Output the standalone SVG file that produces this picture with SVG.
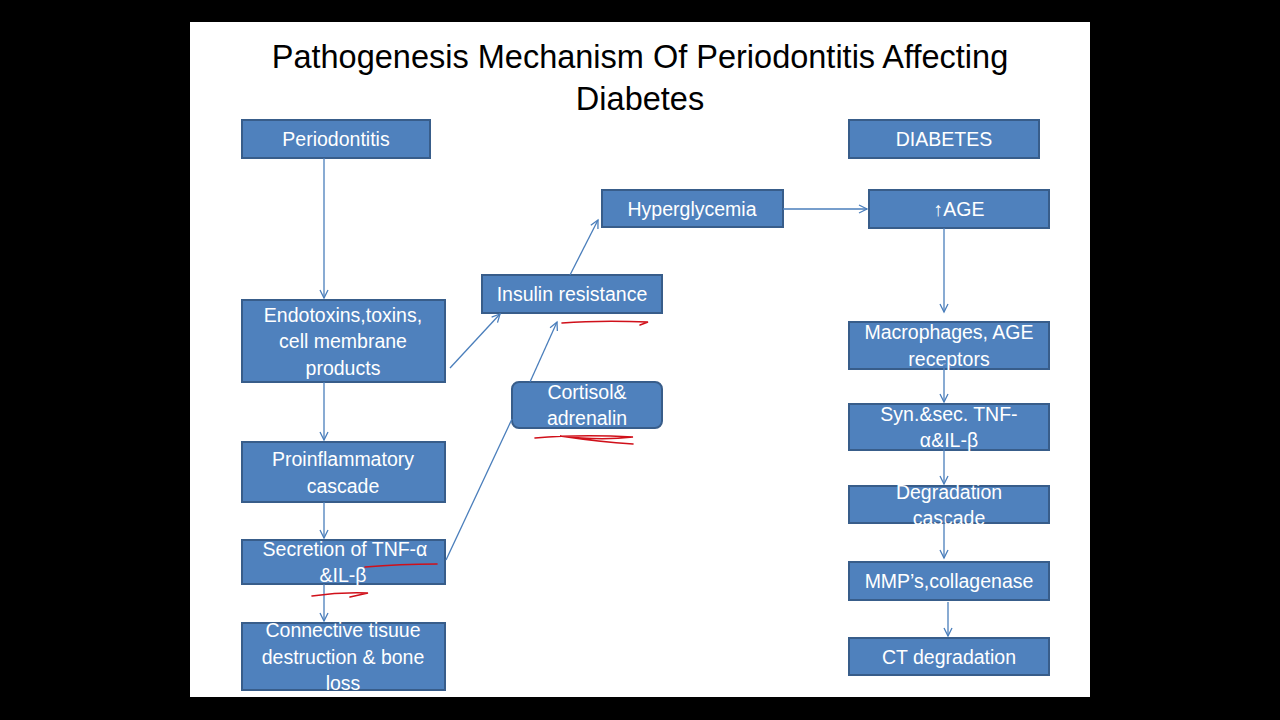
<svg xmlns="http://www.w3.org/2000/svg" width="1280" height="720" viewBox="0 0 1280 720">
<defs>
<style>
.n{fill:#4F81BD;stroke:#385D8A;stroke-width:2}
.t{fill:#fff;font-family:"Liberation Sans",Arial,sans-serif;font-size:19.5px;text-anchor:middle}
.c{stroke:#4A7EBB;stroke-width:1.3;fill:none}
.a{marker-end:url(#ar)}
.r{stroke:#D0101A;stroke-width:1.6;fill:none;stroke-linecap:round}
</style>
<marker id="ar" markerWidth="12" markerHeight="12" refX="9" refY="5" orient="auto" markerUnits="userSpaceOnUse"><path d="M1,1 L9,5 L1,9" fill="none" stroke="#4A7EBB" stroke-width="1.3"/></marker>
</defs>
<rect width="1280" height="720" fill="#000"/>
<rect x="190" y="22" width="900" height="675" fill="#fff"/>
<g font-family="Liberation Sans,Arial,sans-serif" font-size="32.5" text-anchor="middle" fill="#000">
<text x="640" y="68">Pathogenesis Mechanism Of Periodontitis Affecting</text>
<text x="640" y="110">Diabetes</text>
</g>
<g id="n1"><rect class="n" x="242" y="120" width="188" height="38"/><text class="t" x="336" y="146">Periodontitis</text></g>
<g id="n2"><rect class="n" x="849" y="120" width="190" height="38"/><text class="t" x="944" y="146">DIABETES</text></g>
<g id="n3"><rect class="n" x="602" y="190" width="181" height="37"/><text class="t" x="692" y="216">Hyperglycemia</text></g>
<g id="n4"><rect class="n" x="869" y="190" width="180" height="38"/><text class="t" x="959" y="216">↑AGE</text></g>
<g id="n5"><rect class="n" x="482" y="275" width="180" height="38"/><text class="t" x="572" y="301">Insulin resistance</text></g>
<g id="n6"><rect class="n" x="242" y="300" width="203" height="82"/><text class="t" x="343" y="322">Endotoxins,toxins,</text><text class="t" x="343" y="348">cell membrane</text><text class="t" x="343" y="375">products</text></g>
<g id="n7"><rect class="n" x="512" y="382" width="150" height="46" rx="7"/><text class="t" x="587" y="399">Cortisol&amp;</text><text class="t" x="587" y="425">adrenalin</text></g>
<g id="n8"><rect class="n" x="242" y="442" width="203" height="60"/><text class="t" x="343" y="466">Proinflammatory</text><text class="t" x="343" y="493">cascade</text></g>
<g id="n9"><rect class="n" x="242" y="540" width="203" height="44"/><text class="t" x="345" y="556">Secretion of TNF-α</text><text class="t" x="343" y="582">&amp;IL-β</text></g>
<g id="n10"><rect class="n" x="242" y="623" width="203" height="67"/><text class="t" x="343" y="637">Connective tisuue</text><text class="t" x="343" y="664">destruction &amp; bone</text><text class="t" x="343" y="690">loss</text></g>
<g id="n11"><rect class="n" x="849" y="322" width="200" height="47"/><text class="t" x="949" y="339">Macrophages, AGE</text><text class="t" x="949" y="366">receptors</text></g>
<g id="n12"><rect class="n" x="849" y="404" width="200" height="46"/><text class="t" x="949" y="421">Syn.&amp;sec. TNF-</text><text class="t" x="949" y="447">α&amp;IL-β</text></g>
<g id="n13"><rect class="n" x="849" y="486" width="200" height="37"/><text class="t" x="949" y="499">Degradation</text><text class="t" x="949" y="525">cascade</text></g>
<g id="n14"><rect class="n" x="849" y="562" width="200" height="38"/><text class="t" x="949" y="588">MMP’s,collagenase</text></g>
<g id="n15"><rect class="n" x="849" y="638" width="200" height="37"/><text class="t" x="949" y="664">CT degradation</text></g>
<g id="connectors">
<line class="c a" x1="324" y1="158" x2="324" y2="298"/>
<line class="c a" x1="324" y1="382" x2="324" y2="440"/>
<line class="c a" x1="324" y1="502" x2="324" y2="538"/>
<line class="c a" x1="324" y1="584" x2="324" y2="621"/>
<line class="c a" x1="450" y1="368" x2="500" y2="314"/>
<line class="c" x1="446" y1="560" x2="512" y2="419"/>
<line class="c a" x1="530" y1="382" x2="557" y2="322"/>
<line class="c a" x1="570" y1="275" x2="598" y2="220"/>
<line class="c a" x1="783" y1="209" x2="867" y2="209"/>
<line class="c a" x1="944" y1="228" x2="944" y2="312"/>
<line class="c a" x1="944" y1="360" x2="944" y2="402"/>
<line class="c a" x1="944" y1="440" x2="944" y2="484"/>
<line class="c a" x1="944" y1="515" x2="944" y2="558"/>
<line class="c a" x1="948" y1="602" x2="948" y2="636"/>
</g>
<g id="annotations">
<path class="r" d="M562,323 Q600,320 648,322 L640,325"/>
<path class="r" d="M535,438 Q580,434 633,437 Q600,441 560,436 Q600,442 633,444"/>
<path class="r" d="M365,567 Q400,564 437,564"/>
<path class="r" d="M312,596 Q340,592 368,593 L350,597"/>
</g>
</svg>
